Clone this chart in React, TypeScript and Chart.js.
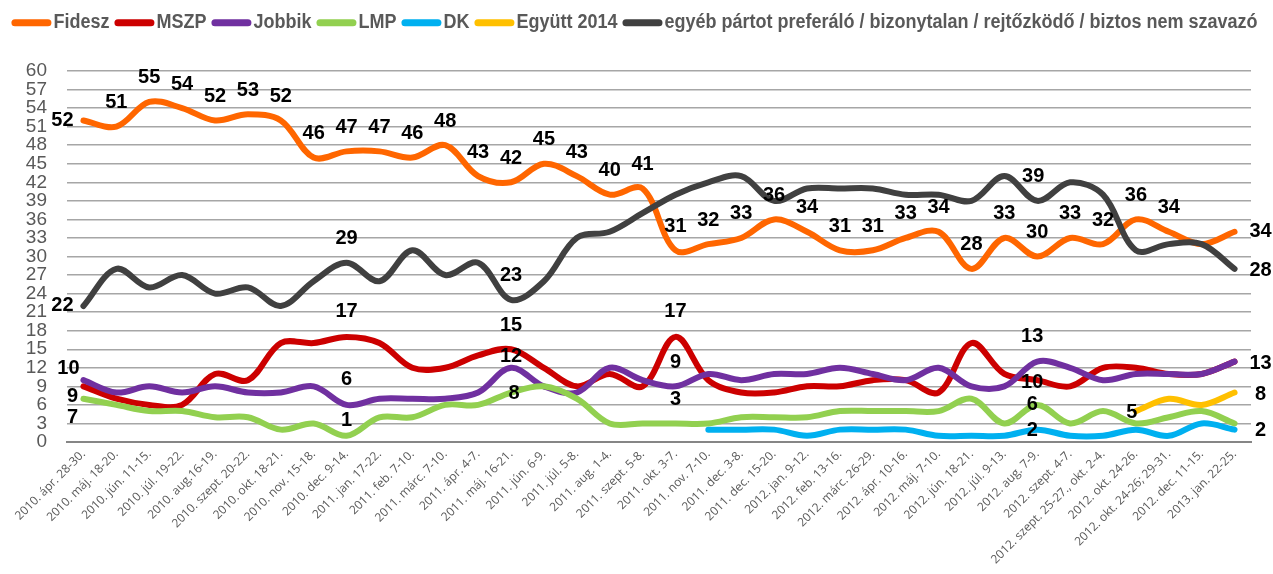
import React, { useEffect, useRef } from "react";
import { Chart, registerables } from "chart.js";

Chart.register(...registerables);

const categories = [
  "2010. ápr. 28-30.",
  "2010. máj. 18-20.",
  "2010. jún. 11-15.",
  "2010. júl. 19-22.",
  "2010. aug.16-19.",
  "2010. szept. 20-22.",
  "2010. okt. 18-21.",
  "2010. nov. 15-18.",
  "2010. dec. 9-14.",
  "2011. jan. 17-22.",
  "2011. feb. 7-10.",
  "2011. márc. 7-10.",
  "2011. ápr. 4-7.",
  "2011. máj. 16-21.",
  "2011. jún. 6-9.",
  "2011. júl. 5-8.",
  "2011. aug. 1-4.",
  "2011. szept. 5-8.",
  "2011. okt. 3-7.",
  "2011. nov. 7-10.",
  "2011. dec. 3-8.",
  "2011. dec. 15-20.",
  "2012. jan. 9-12.",
  "2012. feb. 13-16.",
  "2012. márc. 26-29.",
  "2012. ápr. 10-16.",
  "2012. máj. 7-10.",
  "2012. jún. 18-21.",
  "2012. júl. 9-13.",
  "2012. aug. 7-9.",
  "2012. szept. 4-7.",
  "2012. szept. 25-27., okt. 2-4.",
  "2012. okt. 24-26.",
  "2012. okt. 24-26; 29-31.",
  "2012. dec. 11-15.",
  "2013. jan. 22-25.",
];

const fidesz = [52, 51, 55, 54, 52, 53, 52, 46, 47, 47, 46, 48, 43, 42, 45, 43, 40, 41, 31, 32, 33, 36, 34, 31, 31, 33, 34, 28, 33, 30, 33, 32, 36, 34, 32, 34];
const mszp = [9, 7, 6, 6, 11, 10, 16, 16, 17, 16, 12, 12, 14, 15, 12, 9, 11, 9, 17, 10, 8, 8, 9, 9, 10, 10, 8, 16, 11, 10, 9, 12, 12, 11, 11, 13];
const jobbik = [10, 8, 9, 8, 9, 8, 8, 9, 6, 7, 7, 7, 8, 12, 9, 8, 12, 10, 9, 11, 10, 11, 11, 12, 11, 10, 12, 9, 9, 13, 12, 10, 11, 11, 11, 13];
const lmp = [7, 6, 5, 5, 4, 4, 2, 3, 1, 4, 4, 6, 6, 8, 9, 7, 3, 3, 3, 3, 4, 4, 4, 5, 5, 5, 5, 7, 3, 6, 3, 5, 3, 4, 5, 3];
const dk = [null, null, null, null, null, null, null, null, null, null, null, null, null, null, null, null, null, null, null, 2, 2, 2, 1, 2, 2, 2, 1, 1, 1, 2, 1, 1, 2, 1, 3, 2];
const egyutt = [null, null, null, null, null, null, null, null, null, null, null, null, null, null, null, null, null, null, null, null, null, null, null, null, null, null, null, null, null, null, null, null, 5, 7, 6, 8];
const egyeb = [22, 28, 25, 27, 24, 25, 22, 26, 29, 26, 31, 27, 29, 23, 26, 33, 34, 37, 40, 42, 43, 39, 41, 41, 41, 40, 40, 39, 43, 39, 42, 40, 31, 32, 32, 28];

const seriesNames = ["Fidesz", "MSZP", "Jobbik", "LMP", "DK", "Együtt 2014", "egyéb pártot preferáló / bizonytalan / rejtőzködő / biztos nem szavazó"];
const seriesValues = [fidesz, mszp, jobbik, lmp, dk, egyutt, egyeb];
const seriesColors = ["#FF6600", "#CC0000", "#7030A0", "#92D050", "#00B0F0", "#FFC000", "#404040"];

const yTicks = [0, 3, 6, 9, 12, 15, 18, 21, 24, 27, 30, 33, 36, 39, 42, 45, 48, 51, 54, 57, 60];

// label placement (style): index -> [dx, dy] offset from point, per series
const fideszSpots: Record<number, [number, number]> = { 0: [-21, 0], 35: [26, 0] };
for (let i = 1; i <= 33; i++) fideszSpots[i] = [0, -24];
const labelSpots: Record<number, [number, number]>[] = [
  fideszSpots,
  { 0: [-11, 10], 8: [0, -25], 13: [0, -24], 18: [0, -25], 29: [-5, 2] },
  { 0: [-15, -12], 8: [0, -25], 13: [0, -11], 18: [0, -24], 29: [-5, -25], 35: [26, 2] },
  { 0: [-11, 19], 8: [0, -15], 13: [3, 1], 18: [0, -24], 29: [-5, 0] },
  { 29: [-5, 1], 35: [26, 1] },
  { 32: [-4, 1], 35: [26, 2] },
  { 0: [-21, 0], 8: [0, -24], 13: [0, -24], 29: [-4, -24], 35: [26, 2] },
];

const pointLabelPlugin = {
  id: "pointLabels",
  afterDatasetsDraw(chart: any) {
    const ctx = chart.ctx;
    ctx.save();
    ctx.font = 'bold 20px "Liberation Sans", Arial, sans-serif';
    ctx.fillStyle = "#000000";
    ctx.textAlign = "center";
    ctx.textBaseline = "middle";
    chart.data.datasets.forEach((ds: any, di: number) => {
      const spots = labelSpots[di] || {};
      const meta = chart.getDatasetMeta(di);
      Object.keys(spots).forEach((k) => {
        const i = Number(k);
        const v = ds.data[i];
        if (v == null) return;
        const el = meta.data[i];
        if (!el) return;
        const [dx, dy] = spots[i];
        ctx.fillText(String(v), el.x + dx, el.y + dy);
      });
    });
    ctx.restore();
  },
};

const legendPlugin = {
  id: "customLegend",
  afterDraw(chart: any) {
    const ctx = chart.ctx;
    ctx.save();
    ctx.font = 'bold 20px "Liberation Sans", Arial, sans-serif';
    const sx = 0.9;
    const sample = 40;
    const gapAfterSample = 2;
    const gapItem = 5;
    const items = chart.data.datasets.map((ds: any) => ({
      text: ds.label,
      color: ds.borderColor,
      w: ctx.measureText(ds.label).width * sx,
    }));
    const total = items.reduce((a: number, it: any) => a + sample + gapAfterSample + it.w + gapItem, 0) - gapItem;
    let x = (chart.width - total) / 2 - 2;
    const y = 22;
    for (const it of items) {
      ctx.strokeStyle = it.color;
      ctx.lineWidth = 7;
      ctx.lineCap = "round";
      ctx.beginPath();
      ctx.moveTo(x + 3.5, y + 0.7);
      ctx.lineTo(x + sample - 3.5, y + 0.7);
      ctx.stroke();
      x += sample + gapAfterSample;
      ctx.save();
      ctx.translate(x, y);
      ctx.scale(sx, 1);
      ctx.fillStyle = "#595959";
      ctx.textBaseline = "middle";
      ctx.textAlign = "left";
      ctx.fillText(it.text, 0, 0);
      ctx.restore();
      x += it.w + gapItem;
    }
    ctx.restore();
  },
};

export default function App() {
  const canvasRef = useRef<HTMLCanvasElement | null>(null);

  useEffect(() => {
    if (!canvasRef.current) return;
    const chart = new Chart(canvasRef.current, {
      type: "line",
      data: {
        labels: categories,
        datasets: seriesNames.map((name, i) => ({
          label: name,
          data: seriesValues[i],
          borderColor: seriesColors[i],
          backgroundColor: seriesColors[i],
          borderWidth: 6,
          tension: 0.35,
          pointRadius: 0,
          pointHoverRadius: 0,
          borderCapStyle: "round",
          borderJoinStyle: "round",
          spanGaps: false,
          fill: false,
          order: seriesNames.length - 1 - i,
        })),
      },
      options: {
        responsive: false,
        animation: false,
        events: [],
        layout: { padding: { top: 71, right: 22, left: 0, bottom: 0 } },
        plugins: {
          legend: { display: false },
          tooltip: { enabled: false },
          title: { display: false },
        },
        scales: {
          x: {
            type: "category",
            offset: true,
            grid: { display: false, drawTicks: false },
            border: { display: true, color: "#868686", width: 2 },
            ticks: {
              autoSkip: false,
              maxRotation: 45,
              minRotation: 45,
              padding: 5,
              color: "#595959",
              font: { family: '"Open Sans", sans-serif', size: 12 },
            },
            afterFit: (scale: any) => {
              scale.height = 132;
            },
          },
          y: {
            min: 0,
            max: 60,
            afterBuildTicks: (scale: any) => {
              scale.ticks = yTicks.map((v) => ({ value: v }));
            },
            grid: { color: "#a6a6a6", lineWidth: 1.5, drawTicks: false },
            border: { display: false },
            ticks: {
              autoSkip: false,
              padding: 20,
              color: "#595959",
              font: { family: '"Liberation Sans", Arial, sans-serif', size: 19 },
            },
            afterFit: (scale: any) => {
              scale.width = 67;
            },
          },
        },
      },
      plugins: [pointLabelPlugin, legendPlugin],
    });
    return () => chart.destroy();
  }, []);

  return (
    <div style={{ position: "fixed", left: 0, top: 0, width: 1273, height: 574, background: "#ffffff" }}>
      <canvas ref={canvasRef} width={1273} height={574} style={{ display: "block" }} />
    </div>
  );
}
